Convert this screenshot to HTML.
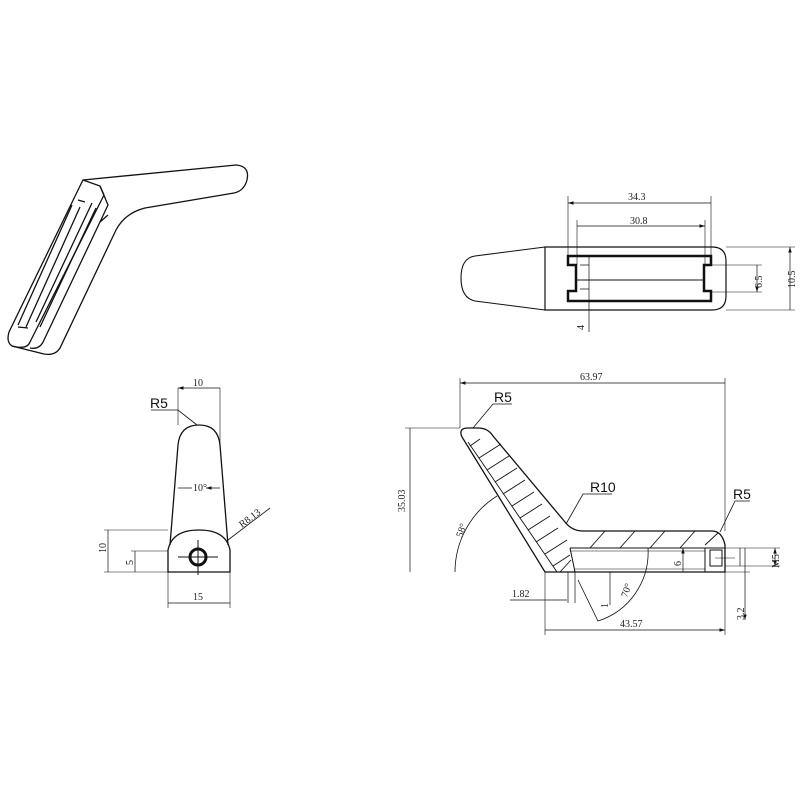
<!DOCTYPE html>
<html><head><meta charset="utf-8"><style>body{margin:0;background:#fff}svg{display:block}text{font-family:"Liberation Serif",serif;font-size:10px;fill:#222;stroke:none}.s{font-family:"Liberation Sans",sans-serif;font-size:14px;fill:#111}</style></head><body>
<svg width="800" height="800" viewBox="0 0 800 800" fill="none" stroke="#111" stroke-width="1.1">
<defs><marker id="a" markerWidth="8" markerHeight="6" refX="8" refY="3" orient="auto-start-reverse"><path d="M0,0.5L8,3L0,5.5" fill="#111" stroke="none"/></marker></defs>
<!-- isometric -->
<g stroke-width="1.3">
<path d="M83,180 L236,165 Q250,166 247,180 Q244,191 234,193 L145,208 Q125,213 116,230 L60,348 Q55,356 44,354 L12,346 Q6,342 9,332 L80,186 Z"/>
<path d="M83,180 L100,186 L104,195 L30,342 Q27,350 12,346"/>
<path d="M100,186 L108,205 L100,222 L44,340 Q40,350 30,348"/>
<path d="M78,200 L85,202 M72,205 L18,325 M80,207 L26,327 M92,203 L36,322 M96,208 L40,327 M18,327 L28,328"/>
<path d="M100,222 L108,215"/>
</g>
<!-- top right view -->
<path d="M545,247 L712,247 Q726,247 726,261 L726,296 Q726,310 712,310 L545,310 Z" stroke-width="1.2"/>
<path d="M545,247 L475,256 Q461,258 461,278 Q461,298 475,301 L545,310"/>
<path d="M568,256 L711,256 L711,265 L704,265 L704,291 L711,291 L711,301 L568,301 L568,291 L576,291 L576,265 L568,265 Z" stroke-width="2.5"/>
<path d="M576,280 L704,280"/>
<path d="M568,196 L568,256 M711,196 L711,256 M577,220 L577,265 M705,220 L705,265" stroke-width="0.6"/>
<path d="M568,203 L711,203 M577,226 L705,226" stroke-width="0.7" marker-start="url(#a)" marker-end="url(#a)"/>
<text x="628" y="200">34.3</text><text x="630" y="224">30.8</text>
<path d="M726,247 L795,247 M726,310 L795,310 M711,265 L762,265 M711,292 L762,292" stroke-width="0.6"/>
<path d="M790,247 L790,310 M757,265 L757,292" stroke-width="0.7" marker-start="url(#a)" marker-end="url(#a)"/>
<text transform="translate(795,288) rotate(-90)">10.5</text><text transform="translate(762,288) rotate(-90)">6.5</text>
<path d="M589,255 L589,332 M580,265 L589,265 M580,289 L589,289" stroke-width="0.7"/>
<text transform="translate(584,330) rotate(-90)">4</text>
<!-- bottom left view -->
<path d="M170,545 L178,445 Q180,425 199,425 Q218,425 220,445 L228,545" stroke-width="1.3"/>
<path d="M168,572 L168,550 Q172,530 199,530 Q226,530 230,550 L230,572 Z" stroke-width="1.3"/>
<circle cx="198" cy="557" r="8" stroke-width="3"/>
<path d="M178,557 L218,557 M198,540 L198,575" stroke-width="1"/>
<path d="M178,388 L178,425 M220,388 L220,445 M168,572 L168,608 M230,572 L230,608 M104,530 L168,530 M131,551 L168,551 M104,572 L168,572" stroke-width="0.6"/>
<path d="M178,388 L220,388 M168,603 L230,603 M108,530 L108,572 M135,551 L135,572 M178,488 L192,488 M220,488 L206,488" stroke-width="0.7" marker-start="url(#a)" marker-end="url(#a)"/>
<text x="193" y="386">10</text><text x="193" y="600">15</text><text x="193" y="491">10°</text>
<text transform="translate(106,553) rotate(-90)">10</text><text transform="translate(133,565) rotate(-90)">5</text>
<path d="M151,410 L178,410 L197,425 M228,540 L270,508" stroke-width="0.8"/>
<text class="s" x="150" y="408">R5</text>
<text transform="translate(242,528) rotate(-37)">R8.13</text>
<!-- bottom right view -->
<path d="M462,437 Q458,428 468,428 L478,428 Q488,428 493,436 L565,522 Q572,531 583,531 L712,531 Q722,531 725,545 L725,572 L545,572 Z" stroke-width="1.3"/>
<path d="M468,442 L557,572" stroke-width="0.9"/>
<path d="M570,548 L725,548 L725,572 M570,548 L575,572 M705,548 L705,572 M710,550 L722,550 L722,566 L710,566 Z" stroke-width="1"/>
<path d="M570,551 L705,551 M575,569 L705,569" stroke-width="0.6"/>
<path d="M470,446 L480,439 M479,458 L501,444 M487,470 L509,456 M495,482 L517,468 M503,494 L525,480 M512,506 L534,492 M520,518 L542,504 M528,530 L550,516 M536,542 L558,528 M545,554 L567,540 M553,566 L570,555 M560,572 L571,560 M590,548 L605,531 M620,548 L635,531 M650,548 L665,531 M680,548 L695,531 M705,545 L718,533" stroke-width="0.9"/>
<path d="M460,378 L460,428 M725,378 L725,531 M405,428 L460,428 M545,572 L545,635 M725,572 L725,635" stroke-width="0.6"/>
<path d="M460,383 L725,383 M410,428 L410,572 M545,630 L725,630" stroke-width="0.7" marker-start="url(#a)" marker-end="url(#a)"/>
<text x="580" y="380">63.97</text><text x="620" y="627">43.57</text>
<text transform="translate(405,512) rotate(-90)">35.03</text>
<path d="M455,572 A90,90 0 0 1 497,496" stroke-width="0.8"/>
<text transform="translate(462,538) rotate(-70)">58°</text>
<path d="M578,580 L598,621 A72,72 0 0 0 648,548" stroke-width="0.8"/>
<text transform="translate(627,598) rotate(-70)">70°</text>
<path d="M510,600 L567,600 M568,572 L568,603 M575,572 L575,603 M610,572 L610,605" stroke-width="0.7"/>
<text x="512" y="597">1.82</text><text transform="translate(608,608) rotate(-90)">1</text>
<path d="M683,548 L683,572 M740,548 L740,566 M745,548 L745,620" stroke-width="0.7" marker-start="url(#a)" marker-end="url(#a)"/>
<text transform="translate(681,566) rotate(-90)">6</text>
<path d="M725,548 L780,548 M725,566 L780,566 M725,572 L750,572 M715,558 L735,558" stroke-width="0.6"/>
<path d="M775,548 L775,566" stroke-width="0.7" marker-start="url(#a)" marker-end="url(#a)"/>
<text transform="translate(779,568) rotate(-90)">M5</text><text transform="translate(744,620) rotate(-90)">3.2</text>
<path d="M512,404 L493,404 L473,428 M612,494 L583,494 L566,524 M750,501 L735,501 L720,532" stroke-width="0.8"/>
<text class="s" x="494" y="402">R5</text><text class="s" x="590" y="492">R10</text><text class="s" x="733" y="499">R5</text>
</svg>
</body></html>
